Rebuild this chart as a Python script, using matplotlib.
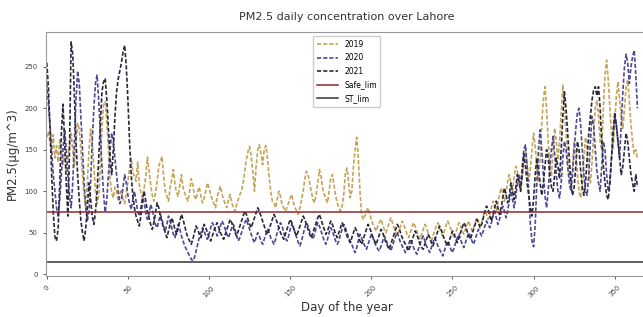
import numpy as np
import matplotlib
matplotlib.use("Agg")
import matplotlib.pyplot as plt

# daily PM2.5 readings (ug/m^3)
pm_2019 = [
    165, 172, 158, 150, 168, 140, 155, 135, 162, 150, 132, 145, 125, 140, 155, 170, 150, 130, 160, 182,
    175, 150, 120, 95, 80, 110, 150, 175, 160, 130, 100, 85, 95, 130, 175, 205, 208, 185, 150, 115,
    98, 92, 105, 100, 88, 95, 102, 90, 85, 98, 112, 128, 140, 122, 118, 112, 135, 108, 98, 92,
    104, 118, 141, 125, 108, 95, 88, 98, 112, 130, 136, 142, 118, 100, 94, 88, 104, 114, 126, 108,
    98, 94, 108, 120, 104, 98, 92, 88, 100, 115, 108, 94, 90, 100, 105, 94, 86, 92, 100, 110,
    104, 96, 90, 85, 80, 94, 100, 106, 96, 90, 84, 80, 90, 96, 86, 80, 76, 84, 90, 96,
    100, 110, 124, 138, 148, 154, 142, 122, 100, 130, 150, 156, 145, 132, 150, 155, 140, 118, 100, 88,
    86, 80, 90, 100, 94, 84, 80, 76, 80, 86, 92, 96, 86, 80, 76, 72, 80, 90, 100, 115,
    124, 120, 110, 100, 90, 86, 96, 110, 126, 118, 104, 96, 90, 86, 100, 116, 120, 108, 95, 86,
    80, 76, 82, 96, 122, 128, 110, 92, 100, 130, 150, 165, 140, 100, 72, 66, 70, 76, 80, 72,
    66, 60, 56, 52, 58, 62, 66, 60, 54, 50, 56, 62, 68, 62, 56, 50, 46, 52, 58, 64,
    60, 54, 48, 44, 50, 56, 62, 58, 52, 46, 42, 48, 54, 60, 56, 50, 44, 40, 46, 52,
    58, 62, 56, 50, 46, 52, 58, 64, 60, 54, 48, 44, 50, 56, 62, 58, 52, 48, 54, 60,
    64, 58, 52, 56, 62, 68, 64, 58, 62, 70, 76, 72, 66, 72, 80, 88, 82, 76, 86, 96,
    104, 96, 88, 98, 112, 120, 110, 100, 116, 130, 124, 110, 100, 118, 140, 150, 132, 112, 126, 150,
    170, 155, 130, 112, 140, 180, 210, 226, 200, 160, 130, 118, 150, 176, 160, 138, 160, 195, 228, 205,
    170, 140, 120, 110, 130, 160, 150, 120, 100, 92, 110, 140, 165, 150, 125, 110, 135, 170, 200, 210,
    190, 160, 150, 200, 240, 258, 235, 200, 170, 150, 180, 215, 232, 210, 190, 175, 200, 225, 234, 210,
    180, 160, 145, 150, 140,
]

pm_2020 = [
    230, 205, 180, 150, 120, 100, 80, 70, 90, 120, 150, 175, 150, 120, 95, 80, 110, 160, 210, 245,
    230, 190, 150, 110, 80, 65, 75, 110, 160, 200, 230, 240, 210, 170, 130, 95, 75, 90, 120, 150,
    170, 160, 140, 120, 100, 85, 90, 105, 120, 110, 95, 85, 78, 90, 100, 88, 76, 70, 80, 92,
    86, 74, 66, 72, 84, 78, 68, 60, 56, 64, 72, 66, 58, 52, 60, 70, 64, 56, 48, 44,
    52, 60, 54, 46, 40, 34, 30, 26, 22, 18, 16, 20, 28, 36, 44, 50, 56, 52, 46, 42,
    48, 56, 62, 58, 52, 46, 50, 58, 64, 60, 54, 48, 44, 50, 56, 60, 54, 46, 40, 44,
    50, 56, 62, 66, 60, 54, 48, 42, 38, 44, 50, 46, 40, 36, 42, 48, 54, 50, 44, 40,
    36, 42, 50, 56, 62, 58, 50, 44, 40, 46, 54, 60, 56, 50, 44, 38, 34, 40, 48, 56,
    62, 58, 52, 46, 42, 48, 56, 62, 58, 52, 46, 40, 36, 42, 50, 56, 52, 46, 40, 36,
    40, 48, 54, 60, 56, 50, 44, 40, 36, 30, 26, 32, 40, 48, 44, 38, 34, 30, 36, 42,
    48, 44, 38, 34, 30, 28, 34, 40, 46, 42, 36, 32, 28, 34, 40, 46, 50, 44, 38, 34,
    30, 26, 30, 36, 42, 38, 32, 28, 24, 30, 36, 42, 46, 40, 34, 30, 26, 32, 38, 44,
    40, 34, 30, 26, 22, 28, 34, 40, 36, 30, 26, 32, 38, 44, 48, 42, 36, 32, 38, 44,
    50, 46, 40, 36, 42, 48, 54, 50, 46, 52, 58, 64, 60, 56, 62, 70, 76, 68, 60, 66,
    74, 82, 76, 68, 76, 88, 100, 90, 80, 92, 110, 120, 106, 130, 150, 156, 130, 100, 60, 40,
    33, 60, 110, 150, 174, 150, 120, 95, 80, 100, 130, 150, 166, 145, 120, 100, 92, 110, 140, 160,
    150, 130, 110, 100, 120, 150, 175, 195, 200, 180, 150, 120, 100, 95, 120, 160, 190, 180, 150, 125,
    110, 100, 130, 160, 150, 120, 100, 110, 140, 170, 190, 180, 160, 140, 180, 220, 250, 265, 255, 230,
    250, 262, 270, 240, 200,
]

pm_2021 = [
    255, 225, 175, 120, 75, 45, 40, 55, 110, 170, 205, 160, 110, 70, 150, 280, 265, 215, 160, 120,
    90, 65, 50, 40, 55, 80, 110, 90, 70, 60, 75, 100, 140, 180, 220, 232, 236, 210, 175, 140,
    120, 150, 190, 220, 235, 245, 255, 268, 276, 250, 210, 160, 120, 95, 80, 70, 64, 58, 70, 90,
    100, 88, 76, 68, 60, 54, 62, 74, 86, 80, 70, 62, 56, 50, 44, 52, 60, 68, 62, 54,
    48, 56, 64, 72, 66, 58, 50, 44, 40, 36, 42, 50, 58, 54, 48, 44, 52, 60, 56, 50,
    44, 40, 46, 52, 58, 62, 56, 50, 46, 42, 48, 54, 60, 66, 62, 56, 50, 46, 52, 58,
    64, 70, 76, 72, 66, 60, 56, 62, 68, 74, 80, 76, 70, 64, 58, 52, 48, 54, 60, 66,
    72, 68, 62, 56, 50, 46, 42, 48, 54, 60, 66, 62, 56, 50, 46, 52, 58, 64, 70, 66,
    60, 54, 48, 44, 50, 56, 62, 68, 72, 66, 60, 54, 48, 52, 58, 64, 60, 54, 48, 44,
    50, 56, 62, 58, 52, 46, 42, 38, 44, 50, 56, 52, 46, 40, 36, 42, 48, 54, 60, 56,
    50, 44, 40, 36, 42, 48, 54, 50, 44, 38, 34, 30, 36, 42, 48, 54, 60, 56, 50, 44,
    40, 36, 32, 28, 34, 40, 46, 52, 48, 42, 36, 32, 30, 36, 42, 48, 44, 38, 34, 40,
    46, 52, 58, 54, 48, 42, 38, 34, 40, 46, 52, 48, 42, 38, 44, 50, 56, 62, 58, 52,
    46, 42, 48, 54, 60, 66, 62, 56, 60, 68, 76, 82, 78, 70, 64, 72, 80, 88, 80, 72,
    80, 92, 104, 96, 86, 94, 110, 100, 90, 104, 120, 112, 100, 120, 145, 130, 110, 95, 80, 70,
    90, 120, 140, 126, 110, 95, 110, 130, 150, 140, 120, 105, 100, 120, 140, 130, 115, 150, 190, 220,
    200, 170, 140, 110, 95, 105, 130, 160, 150, 125, 105, 95, 110, 140, 170, 190, 210, 222, 226, 215,
    226, 200, 160, 130, 110, 95, 90, 110, 140, 170, 195, 180, 160, 140, 120, 130, 150, 170, 160, 140,
    120, 110, 100, 120, 105,
]

safe_lim = 75
st_lim = 15
years = ["2019", "2020", "2021"]
colors = ["#c4a458", "#4c4896", "#28283c"]


def main():
    fig = plt.figure(figsize=(6.43, 3.17), dpi=100)
    ax = fig.add_axes([0.0715, 0.129, 0.935, 0.77])

    for vals, yr, c in zip([pm_2019, pm_2020, pm_2021], years, colors):
        ax.plot(np.arange(len(vals)), vals, linestyle="--", dashes=(2.5, 1.2),
                color=c, lw=1.2, label=yr)

    ax.axhline(safe_lim, color="#8b2b2b", lw=1.1, label="Safe_lim")
    ax.axhline(st_lim, color="#333333", lw=1.1, label="ST_lim")

    ax.set_xlim(-0.5, 370)
    ax.set_ylim(-2.4, 292)
    ax.set_xticks(range(0, 351, 50))
    ax.set_yticks(range(0, 251, 50))
    ax.tick_params(axis="both", labelsize=5, length=2.5, width=0.6, colors="#444444")
    plt.setp(ax.get_xticklabels(), rotation=45)
    for s in ax.spines.values():
        s.set_color("#999999")
        s.set_linewidth(0.8)

    ax.set_title("PM2.5 daily concentration over Lahore", fontsize=8, color="#333333", pad=9)
    ax.set_xlabel("Day of the year", fontsize=8.5, color="#333333", labelpad=2)
    ax.set_ylabel("PM2.5(μg/m^3)", fontsize=8.5, color="#333333")
    ax.legend(loc="upper center", fontsize=5.5, handlelength=2.8, borderpad=0.5,
              labelspacing=0.6, framealpha=1)

    plt.savefig("out.png", dpi=100)


if __name__ == '__main__':
    main()
